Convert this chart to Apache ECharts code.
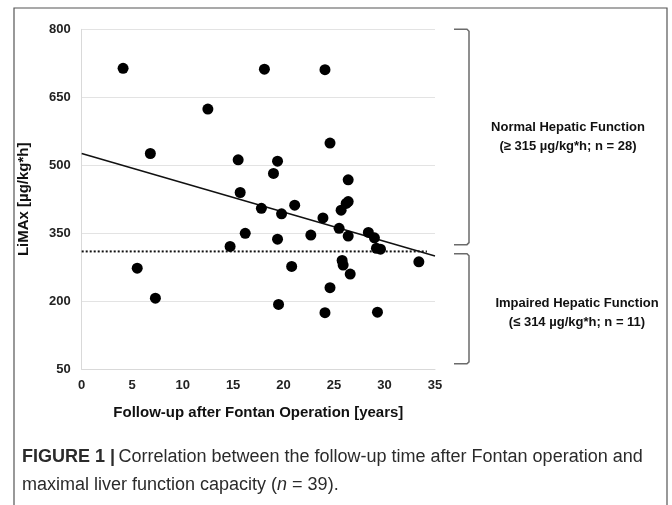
<!DOCTYPE html>
<html>
<head>
<meta charset="utf-8">
<script src="https://cdn.jsdelivr.net/npm/echarts@6/dist/echarts.min.js"></script>
<style>
html,body{margin:0;padding:0;background:#fff;}
#chart{width:672px;height:505px;}
</style>
</head>
<body>
<div id="chart"></div>
<script>
// Follow-up after Fontan operation [years]
var followUp = [4.1, 18.1, 24.1, 12.5, 24.6, 6.8, 15.5, 19.4, 19.0, 26.4,
                15.7, 26.4, 26.2, 21.1, 17.8, 25.7, 19.8, 23.9, 25.5, 28.4,
                16.2, 22.7, 26.4, 29.0, 19.4, 14.7, 29.2, 29.6, 25.8, 33.4,
                25.9, 20.8, 5.5, 26.6, 24.6, 7.3, 19.5, 24.1, 29.3];
// LiMAx [µg/kg*h]
var limax = [714, 712, 711, 624, 549, 526, 512, 509, 482, 468,
             440, 420, 416, 412, 405, 401, 393, 384, 361, 352,
             350, 346, 344, 340, 337, 321, 317, 315, 290, 287,
             280, 277, 273, 260, 230, 207, 193, 175, 176];
// Linear trend line end points
var trendX = [0, 35];
var trendY = [526, 300];
// Cut-off line
var cutoffX = [0, 34.2];
var cutoffY = [310, 310];
// Axis ticks
var xTicks = [0, 5, 10, 15, 20, 25, 30, 35];
var yTicks = [50, 200, 350, 500, 650, 800];
// Group brackets (value ranges) and labels
var groupRanges = [[800, 325], [305, 62]];
var groupLabels = [
  ['Normal Hepatic Function', '(\u2265 315 \u00b5g/kg*h; n = 28)'],
  ['Impaired Hepatic Function', '(\u2264 314 \u00b5g/kg*h; n = 11)']
];

var points = followUp.map(function (x, i) { return [x, limax[i]]; });
var trend = trendX.map(function (x, i) { return [x, trendY[i]]; });
var cutoff = cutoffX.map(function (x, i) { return [x, cutoffY[i]]; });

var chart = echarts.init(document.getElementById('chart'));
var font = 'Liberation Sans, Arial, sans-serif';

chart.setOption({
  animation: false,
  backgroundColor: '#fff',
  grid: { left: 81.7, right: 237, top: 29.3, bottom: 135.7, containLabel: false },
  xAxis: {
    type: 'value', min: xTicks[0], max: xTicks[xTicks.length - 1], interval: 5,
    axisLine: { show: true, lineStyle: { color: '#d9d9d9', width: 1 } },
    axisTick: { show: false },
    splitLine: { show: false },
    axisLabel: { color: '#222', fontWeight: 'bold', fontSize: 13, fontFamily: font, margin: 10 },
    name: 'Follow-up after Fontan Operation [years]',
    nameLocation: 'middle', nameGap: 36,
    nameTextStyle: { color: '#111', fontWeight: 'bold', fontSize: 15, fontFamily: font }
  },
  yAxis: {
    type: 'value', min: yTicks[0], max: yTicks[yTicks.length - 1], interval: 150,
    axisLine: { show: true, lineStyle: { color: '#d9d9d9', width: 1 } },
    axisTick: { show: false },
    splitLine: { show: true, lineStyle: { color: '#e3e3e3', width: 1 } },
    axisLabel: { color: '#222', fontWeight: 'bold', fontSize: 13, fontFamily: font, margin: 11 },
    name: 'LiMAx [\u00b5g/kg*h]',
    nameLocation: 'middle', nameGap: 50, nameRotate: 90,
    nameTextStyle: { color: '#111', fontWeight: 'bold', fontSize: 15, fontFamily: font }
  },
  series: [
    {
      type: 'line', data: trend, symbol: 'none', silent: true,
      lineStyle: { color: '#111', width: 1.5 }, z: 2
    },
    {
      type: 'line', data: cutoff, symbol: 'none', silent: true,
      lineStyle: { color: '#111', width: 2, type: [2, 2] }, z: 2
    },
    {
      type: 'scatter', data: points, symbol: 'circle', symbolSize: 11,
      itemStyle: { color: '#000', opacity: 1 }, z: 3
    }
  ]
});

function buildGraphics() {
  var g = [];
  // figure frame
  g.push({
    type: 'rect', shape: { x: 14, y: 8, width: 653, height: 600 },
    style: { fill: 'none', stroke: '#555', lineWidth: 1.2 }, silent: true, z: 0
  });
  var xRight = chart.convertToPixel({ gridIndex: 0 }, [35, 800])[0];
  var bx0 = xRight + 19, bx1 = xRight + 34;
  var centers = [568, 577];
  groupRanges.forEach(function (r, i) {
    var yTop = chart.convertToPixel({ gridIndex: 0 }, [0, r[0]])[1];
    var yBot = chart.convertToPixel({ gridIndex: 0 }, [0, r[1]])[1];
    g.push({
      type: 'polyline',
      shape: { points: [[bx0, yTop], [bx1 - 2, yTop], [bx1, yTop + 2], [bx1, yBot - 2], [bx1 - 2, yBot], [bx0, yBot]] },
      style: { fill: 'none', stroke: '#6b6b6b', lineWidth: 1.5 }, silent: true
    });
    var ym = (yTop + yBot) / 2 + (i === 1 ? 4 : 0);
    g.push({
      type: 'text', x: centers[i], y: ym - 9.5,
      style: { text: groupLabels[i][0], fill: '#111', font: 'bold 13px ' + font, textAlign: 'center', textVerticalAlign: 'middle' },
      silent: true
    });
    g.push({
      type: 'text', x: centers[i], y: ym + 9.5,
      style: { text: groupLabels[i][1], fill: '#111', font: 'bold 13px ' + font, textAlign: 'center', textVerticalAlign: 'middle' },
      silent: true
    });
  });
  // caption
  g.push({
    type: 'text', x: 22, y: 457,
    style: {
      text: '{b|FIGURE 1 |} {n|Correlation between the follow-up time after Fontan operation and}',
      textVerticalAlign: 'middle',
      rich: {
        b: { font: 'bold 18px ' + font, fill: '#2b2b2b' },
        n: { font: '18px ' + font, fill: '#2b2b2b' }
      }
    }, silent: true
  });
  g.push({
    type: 'text', x: 22, y: 485,
    style: {
      text: '{n|maximal liver function capacity (}{i|n}{n| = 39).}',
      textVerticalAlign: 'middle',
      rich: {
        n: { font: '18px ' + font, fill: '#2b2b2b' },
        i: { font: 'italic 18px ' + font, fill: '#2b2b2b' }
      }
    }, silent: true
  });
  return g;
}
chart.setOption({ graphic: buildGraphics() });
</script>
</body>
</html>
